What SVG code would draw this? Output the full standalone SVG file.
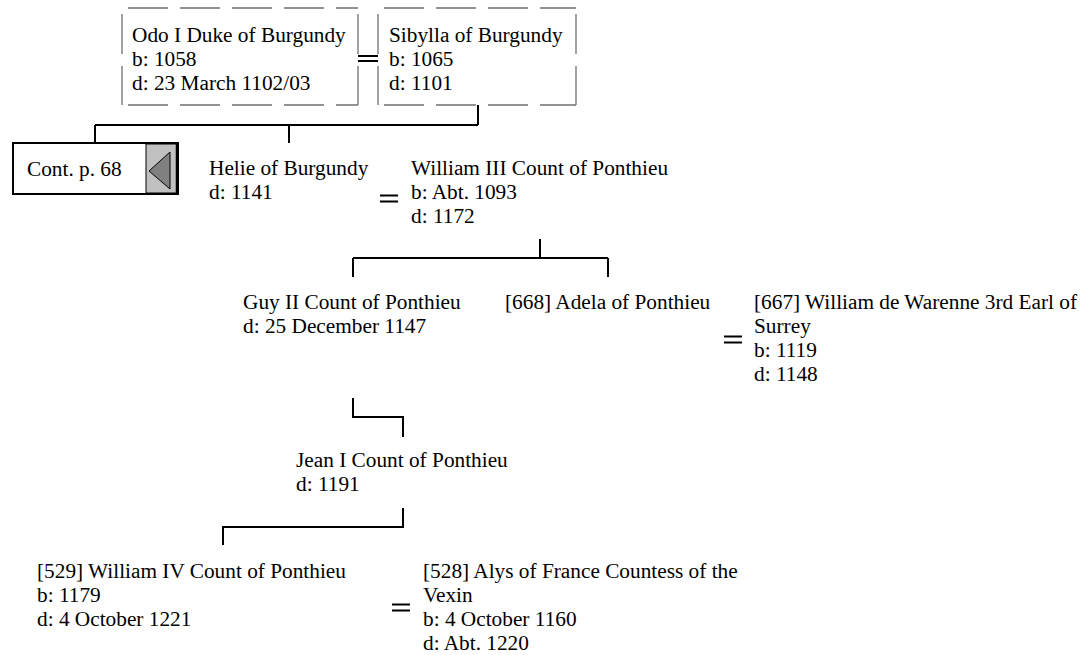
<svg xmlns="http://www.w3.org/2000/svg" width="1090" height="655" viewBox="0 0 1090 655">
<style>
text{font-family:"Liberation Serif","Times New Roman",serif;font-size:21.3px;fill:#000}
.dash{stroke:#707070;stroke-width:1.3;fill:none;stroke-dasharray:40 12;stroke-dashoffset:46}
.conn{stroke:#000;stroke-width:2;fill:none}
.eq{stroke:#000;stroke-width:2}
</style>
<rect width="1090" height="655" fill="#fff"/>
<g id="connectors">
<path class="conn" d="M478 105 V125 M95 125 H478 M95 125 V143 M289 125 V143"/>
<path class="conn" d="M540 239 V258 M353 258 H608 M353 258 V277 M608 258 V277"/>
<path class="conn" d="M353 398 V417 H403 V437"/>
<path class="conn" d="M403 508 V527 H223 V545"/>
<path class="conn" d="M358 56 H378 M358 61 H378" stroke-width="1.3"/>
<path class="eq" d="M380 195.5 H398 M380 201.5 H398"/>
<path class="eq" d="M724 336.5 H742 M724 342.5 H742"/>
<path class="eq" d="M392 604.5 H410 M392 610.5 H410"/>
</g>
<g id="odo">
<line class="dash" x1="122" y1="8" x2="358" y2="8"/>
<line class="dash" x1="358" y1="8" x2="358" y2="105"/>
<line class="dash" x1="122" y1="105" x2="358" y2="105"/>
<line class="dash" x1="122" y1="8" x2="122" y2="105"/>
<text x="132" y="42">Odo I Duke of Burgundy</text>
<text x="132" y="66">b: 1058</text>
<text x="132" y="90">d: 23 March 1102/03</text>
</g>
<g id="sibylla">
<line class="dash" x1="378" y1="8" x2="576" y2="8"/>
<line class="dash" x1="576" y1="8" x2="576" y2="105"/>
<line class="dash" x1="378" y1="105" x2="576" y2="105"/>
<line class="dash" x1="378" y1="8" x2="378" y2="105"/>
<text x="389" y="42">Sibylla of Burgundy</text>
<text x="389" y="66">b: 1065</text>
<text x="389" y="90">d: 1101</text>
</g>
<g id="cont">
<rect x="13" y="143" width="165" height="51" fill="#fff" stroke="#000" stroke-width="2"/>
<rect x="146" y="144" width="31" height="49" fill="#c0c0c0" stroke="#000" stroke-width="1"/>
<line x1="177" y1="143" x2="177" y2="194" stroke="#000" stroke-width="2.5"/>
<polygon points="149,171 170,152 170,189" fill="#808080" stroke="#000" stroke-width="1"/>
<text x="27" y="176">Cont. p. 68</text>
</g>
<g id="helie">
<text x="209" y="175">Helie of Burgundy</text>
<text x="209" y="199">d: 1141</text>
</g>
<g id="william3">
<text x="411" y="175">William III Count of Ponthieu</text>
<text x="411" y="199">b: Abt. 1093</text>
<text x="411" y="223">d: 1172</text>
</g>
<g id="guy2">
<text x="243" y="309">Guy II Count of Ponthieu</text>
<text x="243" y="333">d: 25 December 1147</text>
</g>
<g id="adela">
<text x="505" y="309">[668] Adela of Ponthieu</text>
</g>
<g id="warenne">
<text x="754" y="309">[667] William de Warenne 3rd Earl of</text>
<text x="754" y="333">Surrey</text>
<text x="754" y="357">b: 1119</text>
<text x="754" y="381">d: 1148</text>
</g>
<g id="jean1">
<text x="296" y="467">Jean I Count of Ponthieu</text>
<text x="296" y="491">d: 1191</text>
</g>
<g id="william4">
<text x="37" y="578">[529] William IV Count of Ponthieu</text>
<text x="37" y="602">b: 1179</text>
<text x="37" y="626">d: 4 October 1221</text>
</g>
<g id="alys">
<text x="423" y="578">[528] Alys of France Countess of the</text>
<text x="423" y="602">Vexin</text>
<text x="423" y="626">b: 4 October 1160</text>
<text x="423" y="650">d: Abt. 1220</text>
</g>
</svg>
